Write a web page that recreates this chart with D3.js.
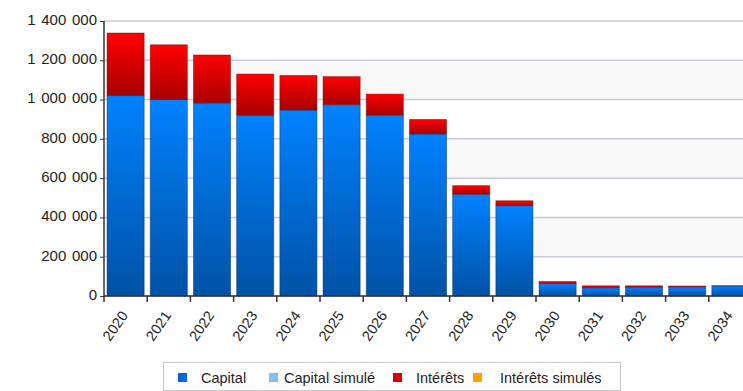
<!DOCTYPE html>
<html><head><meta charset="utf-8">
<script src="https://cdn.jsdelivr.net/npm/d3@7"></script>
<style>
html,body{margin:0;padding:0;background:#fff;}
svg{display:block;font-family:"Liberation Sans",Arial,sans-serif;}
</style></head>
<body><svg id="c" width="743" height="391"></svg>
<script>
const years = ["2020","2021","2022","2023","2024","2025","2026","2027","2028","2029","2030","2031","2032","2033","2034"];
const capital = [1020000,1000000,983000,920000,947000,974000,921000,825000,518000,460000,64000,42000,46000,47000,51000];
const interets = [319000,279000,244000,210000,176000,143000,107000,74000,44000,25000,10000,10000,6000,4000,1500];
const capitalSimule = [0,0,0,0,0,0,0,0,0,0,0,0,0,0,0];
const interetsSimules = [0,0,0,0,0,0,0,0,0,0,0,0,0,0,0];
const yTicks = [0,200000,400000,600000,800000,1000000,1200000,1400000];
const legendLabels = ["Capital","Capital simulé","Intérêts","Intérêts simulés"];
const legendColors = ["#0068d8","#7cc4ec","#dd0000","#ffa000"];

const svg = d3.select("#c");
const mLeft = 104, mTop = 21, mBottom = 296, mRight = 752;
const x = d3.scaleBand().domain(years).range([mLeft, mRight]).paddingInner(0.14).paddingOuter(0.07);
const y = d3.scaleLinear().domain([0,1400000]).range([mBottom, mTop]);
const fmt = v => d3.format(",")(v).replace(/,/g, " ");

const defs = svg.append("defs");
const gb = defs.append("linearGradient").attr("id","gBlue").attr("x1",0).attr("y1",0).attr("x2",0).attr("y2",1);
gb.append("stop").attr("offset","0%").attr("stop-color","#0082ff");
gb.append("stop").attr("offset","100%").attr("stop-color","#0052a6");
const gr = defs.append("linearGradient").attr("id","gRed").attr("x1",0).attr("y1",0).attr("x2",0).attr("y2",1);
gr.append("stop").attr("offset","0%").attr("stop-color","#ff0000");
gr.append("stop").attr("offset","100%").attr("stop-color","#a80000");

// alternating bands
for (let i = 0; i < yTicks.length - 1; i++) {
  if (i % 2 === 1) {
    svg.append("rect").attr("x", mLeft).attr("y", y(yTicks[i+1])).attr("width", 743-mLeft)
      .attr("height", y(yTicks[i]) - y(yTicks[i+1])).attr("fill", "#f8f8f8");
  }
}
// grid
svg.append("g").selectAll("line").data(yTicks).join("line")
  .attr("x1", mLeft).attr("x2", 743).attr("y1", d => y(d)).attr("y2", d => y(d))
  .attr("stroke", "#c4ccda").attr("stroke-width", 1.5);

// bars
const bars = svg.append("g");
years.forEach((yr, i) => {
  const c = capital[i], it = interets[i];
  bars.append("rect").attr("x", x(yr)).attr("width", x.bandwidth())
    .attr("y", y(c)).attr("height", y(0) - y(c))
    .attr("fill", "url(#gBlue)").attr("stroke", "rgba(0,40,90,0.5)").attr("stroke-width", 0.8);
  bars.append("rect").attr("x", x(yr)).attr("width", x.bandwidth())
    .attr("y", y(c + it)).attr("height", y(c) - y(c + it))
    .attr("fill", "url(#gRed)").attr("stroke", "rgba(120,0,0,0.5)").attr("stroke-width", 0.8);
});

// y axis
const ya = svg.append("g").attr("transform", `translate(${mLeft},0)`)
  .call(d3.axisLeft(y).tickValues(yTicks).tickFormat(fmt).tickSize(4).tickPadding(3));
ya.select(".domain").attr("stroke", "#333").attr("stroke-width", 1.5).attr("d", `M0,${mTop}V${mBottom}`);
ya.selectAll(".tick line").attr("stroke", "#333");
ya.selectAll("text").attr("font-size", "15px").attr("fill", "#222").attr("dy", "0.22em")
  .attr("word-spacing", "1.5px")
  .attr("font-family", "Liberation Sans, Arial, sans-serif");

// x axis
const xa = svg.append("g").attr("transform", `translate(0,${mBottom})`)
  .call(d3.axisBottom(x).tickSize(0).tickFormat(d => d));
xa.select(".domain").attr("stroke", "#333").attr("stroke-width", 1.5).attr("d", `M${mLeft},0H743`);
const step = x.step();
xa.append("g").selectAll("line").data(d3.range(years.length + 1)).join("line")
  .attr("x1", i => mLeft + i*step).attr("x2", i => mLeft + i*step)
  .attr("y1", 0).attr("y2", 6).attr("stroke", "#333").attr("stroke-width", 1.5);
xa.selectAll(".tick text").attr("font-size", "14.5px").attr("fill", "#222")
  .attr("font-family", "Liberation Sans, Arial, sans-serif")
  .attr("text-anchor", "end").attr("dy", "0").attr("y", 0).attr("x", 0)
  .attr("transform", "translate(3,19.5) rotate(-55)");

// legend
const lg = svg.append("g");
lg.append("rect").attr("x", 163.5).attr("y", 362.5).attr("width", 457).attr("height", 28)
  .attr("fill", "#fff").attr("stroke", "#c8c8c8");
const sqX = [178, 269, 393, 473], txX = [201, 284, 416, 500];
legendLabels.forEach((l, i) => {
  lg.append("rect").attr("x", sqX[i]).attr("y", 373).attr("width", 9).attr("height", 9)
    .attr("fill", legendColors[i]);
  lg.append("text").attr("x", txX[i]).attr("y", 382.5).attr("font-size", "14.5px")
    .attr("fill", "#222").text(l);
});
</script></body></html>
